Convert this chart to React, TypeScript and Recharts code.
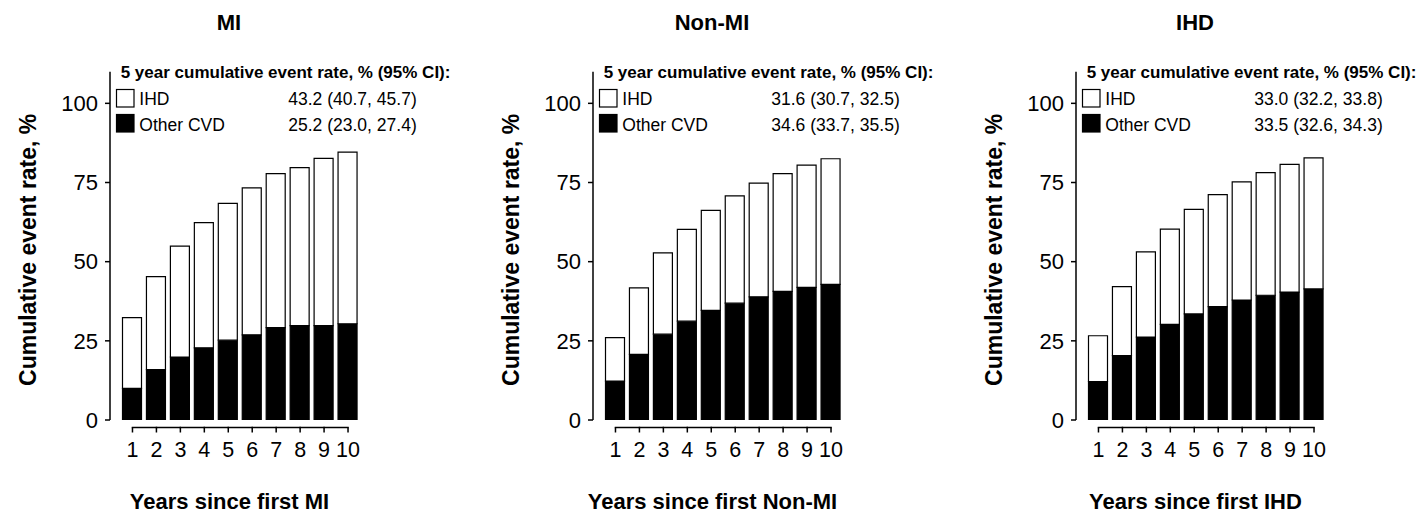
import React from 'react';
import { BarChart, Bar, XAxis, YAxis, Legend } from 'recharts';

const years = [1, 2, 3, 4, 5, 6, 7, 8, 9, 10];
const yTicks = [0, 25, 50, 75, 100];

const panelTitles = ['MI', 'Non-MI', 'IHD'];
const xTitles = ['Years since first MI', 'Years since first Non-MI', 'Years since first IHD'];

// stacked: black = Other CVD (bottom), white = IHD (top)
const miOther = [10.0, 15.9, 19.9, 22.8, 25.2, 26.9, 29.2, 29.8, 29.8, 30.4];
const miIhd = [22.3, 29.4, 35.0, 39.5, 43.2, 46.4, 48.6, 49.9, 52.8, 54.2];
const nonMiOther = [12.3, 20.7, 27.1, 31.2, 34.6, 36.9, 38.9, 40.6, 41.9, 42.8];
const nonMiIhd = [13.7, 21.0, 25.7, 29.0, 31.6, 33.9, 35.9, 37.2, 38.6, 39.7];
const ihdOther = [12.1, 20.3, 26.2, 30.2, 33.5, 35.8, 37.9, 39.4, 40.4, 41.4];
const ihdIhd = [14.5, 21.8, 26.9, 30.1, 33.0, 35.4, 37.3, 38.7, 40.3, 41.4];

const ihdCI = ['43.2 (40.7, 45.7)', '31.6 (30.7, 32.5)', '33.0 (32.2, 33.8)'];
const otherCI = ['25.2 (23.0, 27.4)', '34.6 (33.7, 35.5)', '33.5 (32.6, 34.3)'];

const legendTitle = '5 year cumulative event rate, % (95% CI):';
const legendOrder = ['IHD', 'Other CVD'];

const FONT = '"Liberation Sans", Arial, sans-serif';
const H = 515;
const Y_AXIS_W = 110;
const PLOT_RIGHT = 360;
const PAD_LEFT = 10.5;
const BAND = (PLOT_RIGHT - Y_AXIS_W - PAD_LEFT) / years.length;

const XTick = (props: any) => {
  const { x, y, payload, index } = props;
  const last = index === years.length - 1;
  return (
    <g>
      {!last && <line x1={x - 0.75} x2={x + BAND + 0.75} y1={y + 7.5} y2={y + 7.5} stroke="#000" strokeWidth={1.5} />}
      <line x1={x} x2={x} y1={y + 7.5} y2={y + 12.5} stroke="#000" strokeWidth={1.5} />
      <text x={x} y={y + 37} textAnchor="middle" fontSize={21.5} fontFamily={FONT} fill="#000">
        {payload.value}
      </text>
    </g>
  );
};

const YTitle = (props: any) => {
  const { viewBox } = props;
  const cx = viewBox.x + 36.5;
  const cy = viewBox.y + viewBox.height / 2 + 4;
  return (
    <text
      x={cx}
      y={cy}
      transform={`rotate(-90 ${cx} ${cy})`}
      textAnchor="middle"
      fontSize={23}
      fontWeight="bold"
      fontFamily={FONT}
      fill="#000"
    >
      Cumulative event rate, %
    </text>
  );
};

const makeLegend = (i: number, w: number) => (props: any) => {
  const items = [...(props.payload || [])].sort(
    (a: any, b: any) => legendOrder.indexOf(a.value) - legendOrder.indexOf(b.value)
  );
  const ciFor = (name: string) => (name === 'IHD' ? ihdCI[i] : otherCI[i]);
  return (
    <svg width={w} height={140} style={{ display: 'block', overflow: 'visible' }}>
      <text x={120.7} y={78.3} fontSize={17} fontWeight="bold" fontFamily={FONT} fill="#000">
        {legendTitle}
      </text>
      {items.map((it: any, k: number) => (
        <g key={it.value}>
          <rect
            x={116.5}
            y={89.5 + k * 25}
            width={17.5}
            height={17.5}
            fill={it.payload?.fill || it.color}
            stroke="#000"
            strokeWidth={1.2}
          />
          <text x={139.3} y={105 + k * 25.7} fontSize={17.5} fontFamily={FONT} fill="#000">
            {it.value}
          </text>
          <text x={288.3} y={105 + k * 25.7} fontSize={17.5} fontFamily={FONT} fill="#000">
            {ciFor(it.value)}
          </text>
        </g>
      ))}
    </svg>
  );
};

const Panel = ({ i, left, width, other, ihd }: { i: number; left: number; width: number; other: number[]; ihd: number[] }) => {
  const data = years.map((year, k) => ({ year, other: other[k], ihd: ihd[k] }));
  return (
    <div style={{ position: 'absolute', left, top: 0, width, height: H }}>
      <div
        style={{
          position: 'absolute',
          left: 229 - 150,
          width: 300,
          top: 12.4,
          textAlign: 'center',
          fontFamily: FONT,
          fontWeight: 'bold',
          fontSize: 22,
          lineHeight: '22px',
          whiteSpace: 'nowrap',
        }}
      >
        {panelTitles[i]}
      </div>
      <BarChart
        width={width}
        height={H}
        data={data}
        margin={{ top: 71.67, right: width - PLOT_RIGHT, bottom: 0, left: 0 }}
        barSize={19}
      >
        <XAxis
          dataKey="year"
          type="category"
          height={95}
          padding={{ left: PAD_LEFT, right: 0 }}
          axisLine={false}
          tickLine={false}
          tickSize={0}
          tickMargin={0}
          tick={<XTick />}
          interval={0}
        />
        <YAxis
          width={Y_AXIS_W}
          domain={[0, 110]}
          ticks={yTicks}
          allowDataOverflow
          axisLine={{ stroke: '#000', strokeWidth: 1.5 }}
          tickLine={{ stroke: '#000', strokeWidth: 1.5 }}
          tickSize={5}
          tickMargin={7}
          tick={{ fill: '#000', fontSize: 22, fontFamily: FONT }}
          label={{ content: <YTitle /> }}
        />
        <Legend
          layout="horizontal"
          verticalAlign="middle"
          align="center"
          wrapperStyle={{ position: 'absolute', left: 0, top: 0, width, height: 140 }}
          content={makeLegend(i, width)}
        />
        <Bar dataKey="other" name="Other CVD" stackId="a" fill="#000" stroke="#000" strokeWidth={1.2} isAnimationActive={false} />
        <Bar dataKey="ihd" name="IHD" stackId="a" fill="#fff" stroke="#000" strokeWidth={1.2} isAnimationActive={false} />
      </BarChart>
      <div
        style={{
          position: 'absolute',
          left: 229.5 - 200,
          width: 400,
          top: 491.4,
          textAlign: 'center',
          fontFamily: FONT,
          fontWeight: 'bold',
          fontSize: 22,
          lineHeight: '22px',
          whiteSpace: 'nowrap',
        }}
      >
        {xTitles[i]}
      </div>
    </div>
  );
};

export default function App() {
  return (
    <div style={{ position: 'absolute', left: 0, top: 0, width: 1425, height: H, background: '#fff', overflow: 'hidden' }}>
      <Panel i={0} left={0} width={483} other={miOther} ihd={miIhd} />
      <Panel i={1} left={483} width={483} other={nonMiOther} ihd={nonMiIhd} />
      <Panel i={2} left={966} width={459} other={ihdOther} ihd={ihdIhd} />
    </div>
  );
}
